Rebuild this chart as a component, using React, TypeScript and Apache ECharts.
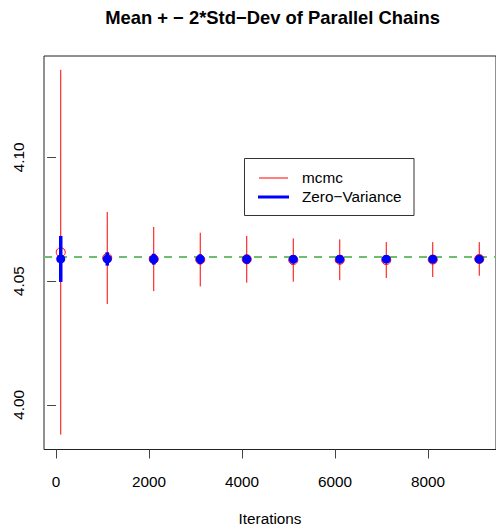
import React, { useEffect, useRef } from "react";
import * as echarts from "echarts";

const iterations = [100, 1100, 2100, 3100, 4100, 5100, 6100, 7100, 8100, 9100];
const mcmcMean = [4.0617, 4.0594, 4.05895, 4.05875, 4.05885, 4.05855, 4.05865, 4.05855, 4.05875, 4.059];
const mcmcLower = [3.988, 4.0408, 4.046, 4.0479, 4.0494, 4.0498, 4.0504, 4.0513, 4.0517, 4.0522];
const mcmcUpper = [4.1354, 4.078, 4.0719, 4.0696, 4.0683, 4.0673, 4.0669, 4.0658, 4.0658, 4.0658];
const zvMean = [4.059, 4.059, 4.0589, 4.0589, 4.0589, 4.0589, 4.0589, 4.0589, 4.0589, 4.0589];
const zvLower = [4.0497, 4.0563, 4.0567, 4.0569, 4.0571, 4.0572, 4.0573, 4.0574, 4.0574, 4.0575];
const zvUpper = [4.0683, 4.0617, 4.0611, 4.0609, 4.0607, 4.0606, 4.0605, 4.0604, 4.0604, 4.0603];
const refLine = 4.059;
const xTicks = [0, 2000, 4000, 6000, 8000];
const yTicks = [4.0, 4.05, 4.1];
const yTickLabels = ["4.00", "4.05", "4.10"];
const seriesNames = ["mcmc", "Zero\u2212Variance"];
const titleText = "Mean + \u2212 2*Std\u2212Dev of Parallel Chains";
const xTitle = "Iterations";

const FONT = "'Liberation Sans', Arial, Helvetica, sans-serif";

export default function App() {
  const ref = useRef<HTMLDivElement>(null);
  useEffect(() => {
    if (!ref.current) return;
    const chart = echarts.init(ref.current, undefined, { renderer: "svg" });
    const errBar = (color: string, width: number) => (params: any, api: any) => {
      const x = api.value(0);
      const p1 = api.coord([x, api.value(1)]);
      const p2 = api.coord([x, api.value(2)]);
      return {
        type: "line",
        shape: { x1: p1[0], y1: p1[1], x2: p2[0], y2: p2[1] },
        style: { stroke: color, lineWidth: width },
      };
    };
    const option: any = {
      animation: false,
      backgroundColor: "#fff",
      title: {
        text: titleText,
        left: 272.5,
        top: 8.3,
        padding: 0,
        textAlign: "center",
        textStyle: { fontSize: 18.4, fontWeight: "bold", fontFamily: FONT, color: "#000" },
      },
      grid: {
        left: 44,
        top: 56,
        right: -5,
        bottom: 76,
        show: true,
        borderColor: "#222",
        borderWidth: 1,
        backgroundColor: "transparent",
      },
      xAxis: {
        type: "value",
        min: -260,
        max: 9460,
        axisLine: { show: false },
        splitLine: { show: false },
        axisTick: { show: true, inside: false, length: 9, customValues: xTicks, lineStyle: { color: "#444" } },
        axisLabel: {
          customValues: xTicks,
          margin: 31.5,
          verticalAlign: "middle",
          fontSize: 15.3,
          color: "#000",
          fontFamily: FONT,
          formatter: (v: number) => String(Math.round(v)),
        },
        name: xTitle,
        nameLocation: "middle",
        nameGap: 69,
        nameTextStyle: { fontSize: 15.3, color: "#000", fontFamily: FONT, verticalAlign: "middle" },
      },
      yAxis: {
        type: "value",
        min: 3.982,
        max: 4.141,
        axisLine: { show: false },
        splitLine: { show: false },
        axisTick: { show: true, inside: false, length: 9, customValues: yTicks, lineStyle: { color: "#444" } },
        axisLabel: {
          customValues: yTicks,
          rotate: 90,
          margin: 26,
          verticalAlign: "middle",
          fontSize: 15.3,
          color: "#000",
          fontFamily: FONT,
          formatter: (v: number) => {
            const i = yTicks.findIndex((t) => Math.abs(t - v) < 1e-9);
            return i >= 0 ? yTickLabels[i] : String(v);
          },
        },
      },
      series: [
        {
          type: "custom",
          name: seriesNames[0],
          renderItem: errBar("#ff0000", 1),
          data: iterations.map((it, i) => [it, mcmcLower[i], mcmcUpper[i]]),
          z: 2,
          markLine: {
            silent: true,
            symbol: "none",
            z: 1,
            label: { show: false },
            lineStyle: { color: "#6DBF6D", width: 2, type: [8, 7] },
            data: [{ yAxis: refLine }],
          },
        },
        {
          type: "scatter",
          name: seriesNames[0] + " mean",
          symbol: "circle",
          symbolSize: 9,
          itemStyle: { color: "rgba(0,0,0,0)", borderColor: "#ff0000", borderWidth: 1, opacity: 1 },
          data: iterations.map((it, i) => [it, mcmcMean[i]]),
          z: 3,
        },
        {
          type: "custom",
          name: seriesNames[1],
          renderItem: errBar("#0000ff", 3.5),
          data: iterations.map((it, i) => [it, zvLower[i], zvUpper[i]]),
          z: 4,
        },
        {
          type: "scatter",
          name: seriesNames[1] + " mean",
          symbol: "circle",
          symbolSize: 9,
          itemStyle: { color: "#0000ff", opacity: 1 },
          data: iterations.map((it, i) => [it, zvMean[i]]),
          z: 5,
        },
      ],
      graphic: [
        {
          type: "rect",
          shape: { x: 244.5, y: 158.5, width: 169.5, height: 57 },
          style: { fill: "#fff", stroke: "#333", lineWidth: 1 },
          z: 10,
        },
        {
          type: "line",
          shape: { x1: 259, y1: 178, x2: 288, y2: 178 },
          style: { stroke: "#ff0000", lineWidth: 1 },
          z: 11,
        },
        {
          type: "line",
          shape: { x1: 258, y1: 197, x2: 289, y2: 197 },
          style: { stroke: "#0000ff", lineWidth: 3 },
          z: 11,
        },
        {
          type: "text",
          x: 302,
          y: 177,
          style: {
            text: seriesNames[0],
            fontSize: 15.3,
            fontFamily: FONT,
            fill: "#000",
            align: "left",
            textAlign: "left",
            verticalAlign: "middle",
            textVerticalAlign: "middle",
          },
          z: 11,
        },
        {
          type: "text",
          x: 302,
          y: 196.5,
          style: {
            text: seriesNames[1],
            fontSize: 15.3,
            fontFamily: FONT,
            fill: "#000",
            align: "left",
            textAlign: "left",
            verticalAlign: "middle",
            textVerticalAlign: "middle",
          },
          z: 11,
        },
      ],
    };
    chart.setOption(option);
    return () => chart.dispose();
  }, []);
  return (
    <div
      ref={ref}
      style={{ position: "fixed", left: 0, top: 0, width: 496, height: 531 }}
    />
  );
}
